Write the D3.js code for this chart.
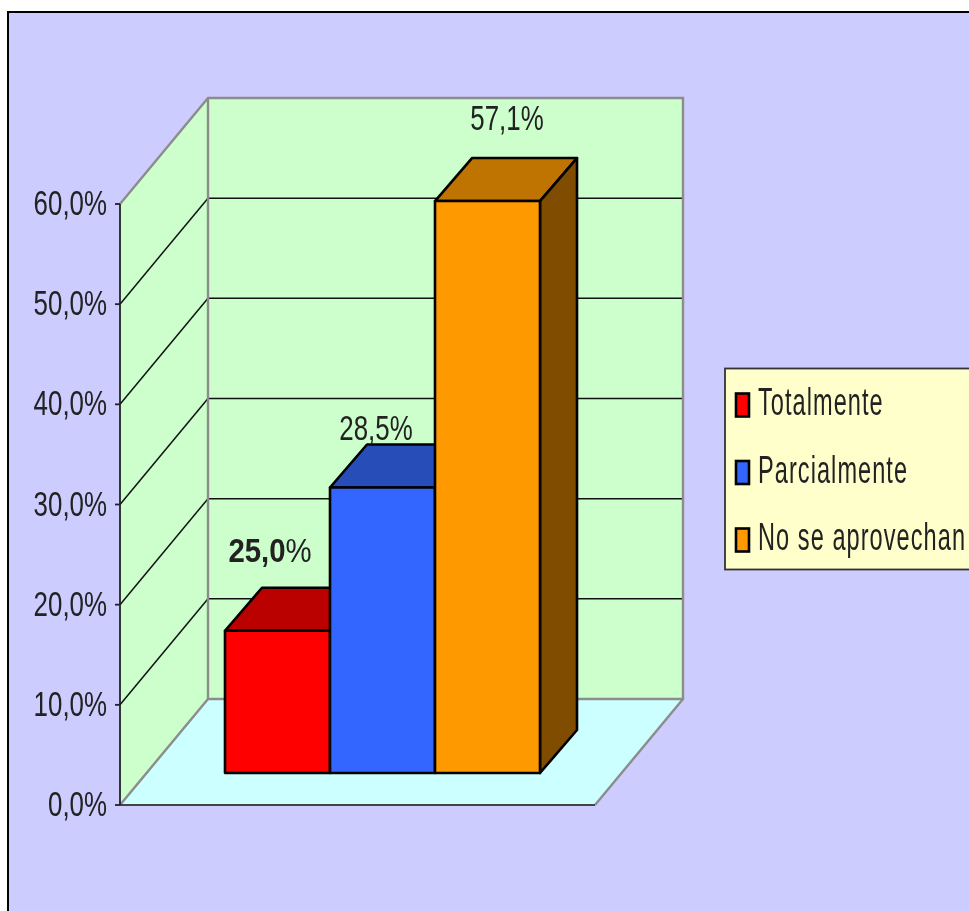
<!DOCTYPE html>
<html><head><meta charset="utf-8">
<script src="https://cdn.jsdelivr.net/npm/d3@7"></script>
<style>html,body{margin:0;padding:0;background:#fff;overflow:hidden}svg{display:block}
text{font-family:"Liberation Sans",Arial,sans-serif;fill:#222}</style>
</head><body><svg id="c" width="969" height="911">
<defs><filter id="soft" x="-5%" y="-20%" width="110%" height="140%"><feGaussianBlur stdDeviation="0.45"/></filter></defs>
</svg>
<script>
const categories = ["Totalmente","Parcialmente","No se aprovechan"];
const barValues = [14.2, 28.5, 57.1];
const barLabels = ["25,0%","28,5%","57,1%"];
const frontColors = ["#ff0000","#3366ff","#ff9900"];
const topColors = ["#bb0000","#264db8","#bf7300"];
const sideColors = ["#800000","#1f3d8f","#804d00"];
const ticks = [0,10,20,30,40,50,60];
const tickLabels = ["0,0%","10,0%","20,0%","30,0%","40,0%","50,0%","60,0%"];

const svg = d3.select("#c");
const y = d3.scaleLinear().domain([0,60]).range([805,204]);
const x = d3.scaleBand().domain(categories).range([225,540]).padding(0);
const wallX0 = 120, floorW = 475, dx = 88, dy = -106;
const barDx = 37, barDy = -43, barBase = 773;
const yBar = v => y(v) - (805 - barBase);
const poly = p => p.map(d=>d.join(",")).join(" ");
const stretched = (sel, sx, sy) => sel.attr("transform", d => `translate(${d.px},${d.py}) scale(${sx},${sy})`);

svg.append("rect").attr("x",8).attr("y",12).attr("width",980).attr("height",920)
  .attr("fill","#ccccff").attr("stroke","#000").attr("stroke-width",2);

const grey = "#8c8c8c";
svg.append("polygon").attr("points",poly([[wallX0,y(0)],[wallX0+dx,y(0)+dy],[wallX0+dx+floorW,y(0)+dy],[wallX0+floorW,y(0)]]))
  .attr("fill","#ccffff");
svg.append("polygon").attr("points",poly([[wallX0+dx,y(60)+dy],[wallX0+dx+floorW,y(60)+dy],[wallX0+dx+floorW,y(0)+dy],[wallX0+dx,y(0)+dy]]))
  .attr("fill","#ccffcc");
svg.append("polygon").attr("points",poly([[wallX0,y(60)],[wallX0+dx,y(60)+dy],[wallX0+dx,y(0)+dy],[wallX0,y(0)]]))
  .attr("fill","#ccffcc");

const grid = ticks.filter(t=>t>0 && t<60);
svg.selectAll(".gb").data(grid).join("line").attr("x1",wallX0+dx).attr("x2",wallX0+dx+floorW)
  .attr("y1",d=>y(d)+dy).attr("y2",d=>y(d)+dy).attr("stroke","#111").attr("stroke-width",1.5);
svg.selectAll(".gs").data(grid).join("line").attr("x1",wallX0).attr("x2",wallX0+dx)
  .attr("y1",d=>y(d)).attr("y2",d=>y(d)+dy).attr("stroke","#111").attr("stroke-width",1.5);

svg.append("polyline").attr("points",poly([[wallX0,y(60)],[wallX0+dx,y(60)+dy],[wallX0+dx+floorW,y(60)+dy],[wallX0+dx+floorW,y(0)+dy],[wallX0+dx,y(0)+dy],[wallX0+dx,y(60)+dy]]))
  .attr("fill","none").attr("stroke",grey).attr("stroke-width",2.4);
svg.append("polyline").attr("points",poly([[wallX0,y(0)],[wallX0+dx,y(0)+dy]]))
  .attr("fill","none").attr("stroke",grey).attr("stroke-width",2.4);
svg.append("polyline").attr("points",poly([[wallX0+floorW,y(0)],[wallX0+dx+floorW,y(0)+dy]]))
  .attr("fill","none").attr("stroke",grey).attr("stroke-width",2.4);
svg.append("line").attr("x1",wallX0).attr("x2",wallX0+floorW).attr("y1",y(0)).attr("y2",y(0)).attr("stroke","#444").attr("stroke-width",2.2);

const barData = categories.map((c,i)=>({c,i,v:barValues[i]}));
const bars = svg.selectAll(".bar").data(barData).join("g").attr("class","bar")
  .attr("stroke","#000").attr("stroke-width",2.6).attr("stroke-linejoin","round");
bars.append("polygon").attr("class","top").attr("points",d=>{
  const l=x(d.c), r=l+x.bandwidth(), t=yBar(d.v);
  return poly([[l,t],[l+barDx,t+barDy],[r+barDx,t+barDy],[r,t]]);
}).attr("fill",d=>topColors[d.i]);
bars.filter(d=>d.i===2).append("polygon").attr("points",d=>{
  const r=x(d.c)+x.bandwidth(), t=yBar(d.v);
  return poly([[r,t],[r+barDx,t+barDy],[r+barDx,barBase+barDy],[r,barBase]]);
}).attr("fill",d=>sideColors[d.i]);
bars.append("rect").attr("x",d=>x(d.c)).attr("width",x.bandwidth())
  .attr("y",d=>yBar(d.v)).attr("height",d=>barBase-yBar(d.v)).attr("fill",d=>frontColors[d.i]);

svg.append("line").attr("x1",wallX0).attr("x2",wallX0).attr("y1",y(60)).attr("y2",y(0)).attr("stroke","#222").attr("stroke-width",1.8);
svg.selectAll(".tk").data(ticks).join("line").attr("x1",wallX0-5).attr("x2",wallX0)
  .attr("y1",d=>y(d)).attr("y2",d=>y(d)).attr("stroke","#222").attr("stroke-width",1.8);

const txt = svg.append("g").attr("filter","url(#soft)");
txt.selectAll(".tl").data(ticks.map((t,i)=>({t,s:tickLabels[i],px:107,py:y(t)+11}))).join("text")
  .text(d=>d.s).attr("text-anchor","end").attr("font-size",35).call(stretched,0.74,1);

const labelPos = [{px:270,py:562,sx:0.89,fs:33},{px:376,py:440,sx:0.74,fs:35},{px:507,py:130,sx:0.74,fs:35}];
txt.selectAll(".dl").data(barLabels.map((s,i)=>({s,...labelPos[i]}))).join("text")
  .text(d=>d.s).attr("text-anchor","middle").attr("font-size",d=>d.fs)
  .attr("transform",d=>`translate(${d.px},${d.py}) scale(${d.sx},1)`)
  .each(function(d,i){ if(i===0){
    const t=d3.select(this); t.text(null);
    t.append("tspan").attr("font-weight","bold").text("25,0");
    t.append("tspan").text("%");
  }});

const lg = svg.append("g");
lg.append("rect").attr("x",725).attr("y",368.5).attr("width",260).attr("height",201).attr("fill","#ffffcc").attr("stroke","#333").attr("stroke-width",1.8);
const ly = d3.scalePoint().domain(categories).range([405,540]);
const items = lg.selectAll(".li").data(categories.map((c,i)=>({c,i,px:758,py:ly(c)+10}))).join("g");
items.append("rect").attr("x",736).attr("y",d=>ly(d.c)-11.5).attr("width",13).attr("height",23)
  .attr("fill",d=>frontColors[d.i]).attr("stroke","#000").attr("stroke-width",2.6);
items.append("text").text(d=>d.c).attr("font-size",38).attr("letter-spacing",1.7).attr("filter","url(#soft)").call(stretched,0.62,1);
</script></body></html>
